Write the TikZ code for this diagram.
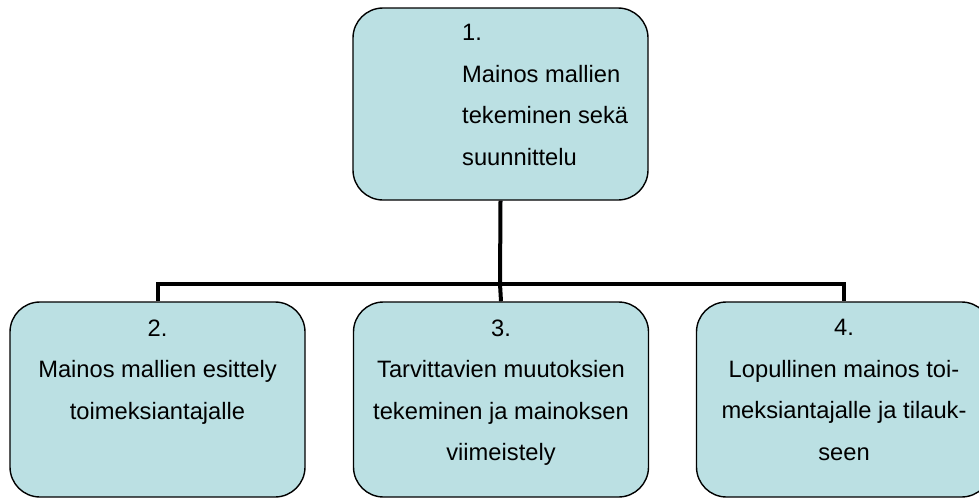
\documentclass[tikz,border=0pt]{standalone}
\usepackage{fontspec}
\setmainfont{Liberation Sans}
\usetikzlibrary{positioning}
\definecolor{boxfill}{RGB}{187,224,227}

\begin{document}
\begin{tikzpicture}[
        x=1pt, y=-1pt,
        phase/.style={rectangle, draw=black, line width=1.4pt, fill=boxfill, rounded corners=30pt, minimum width=295pt, minimum height=195pt, inner sep=0pt},
        label/.style={font=\fontsize{23.7}{41.5}\selectfont, inner sep=0pt, align=center},
        conn/.style={line width=4pt, draw=black}
    ]
        \useasboundingbox (0,0) rectangle (979,498);
        \node[phase, minimum height=192pt] (m1) at (500.5,104) {};
        \node[phase] (m2) at (157.5,399.5) {};
        \node[phase] (m3) at (501,399.5) {};
        \node[phase] (m4) at (844,399.5) {};
        \coordinate (jn) at (500,284);

        \node[label, align=left, anchor=north west] (t1) at ([xshift=-38.5pt, yshift=-17pt]m1.north) {1.\\Mainos mallien\\tekeminen sekä\\suunnittelu};
        \node[label, anchor=north] (t2) at ([yshift=-18pt]m2.north) {2.\\Mainos mallien esittely\\toimeksiantajalle};
        \node[label, anchor=north] (t3) at ([yshift=-18pt]m3.north) {3.\\Tarvittavien muutoksien\\tekeminen ja mainoksen\\viimeistely};
        \node[label, anchor=north] (t4) at ([yshift=-18pt]m4.north) {4.\\Lopullinen mainos toi-\\meksiantajalle ja tilauk-\\seen};

        \draw[conn] (m1.south) -- (jn);
        \draw[conn] (m2.north) |- (jn) -| (m4.north);
        \draw[conn] (jn) -- (m3.north);
    \end{tikzpicture}
\end{document}
